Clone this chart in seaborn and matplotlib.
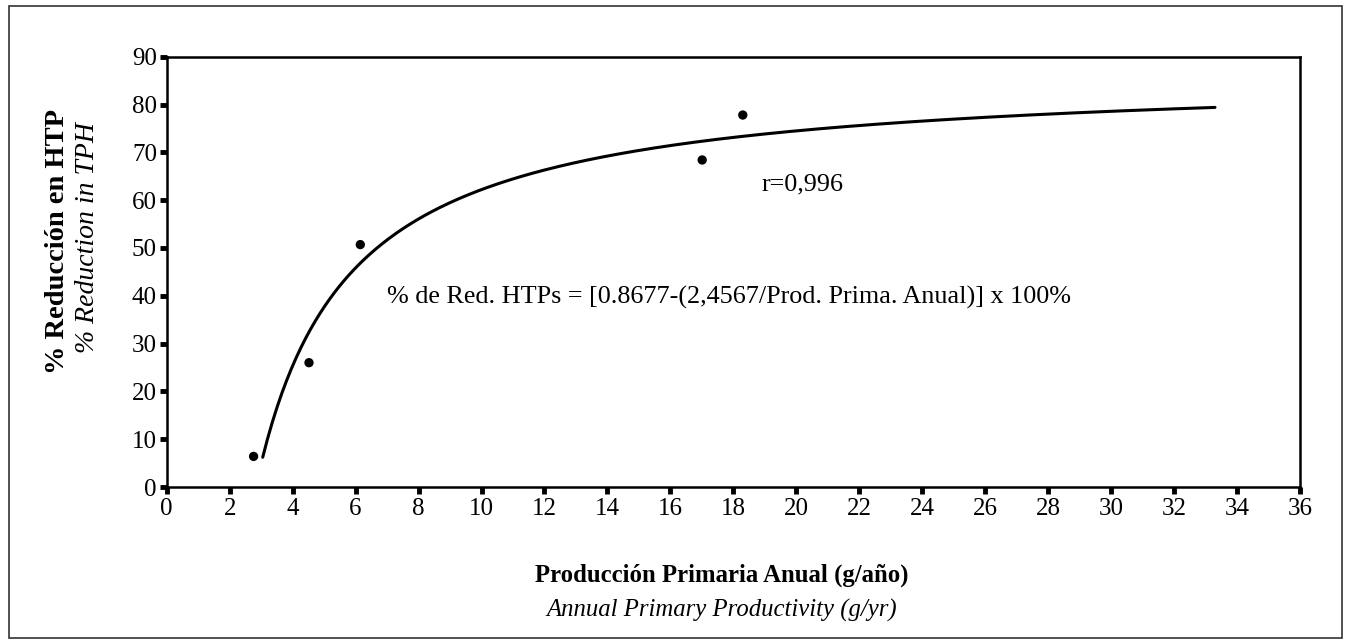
import numpy as np
import pandas as pd
import matplotlib
matplotlib.use("Agg")
import matplotlib.pyplot as plt
import seaborn as sns
from matplotlib.patches import Rectangle

# ---- data ----
prod_x = [2.76, 4.52, 6.15, 17.01, 18.30]
reduction_y = [6.4, 26.0, 50.7, 68.4, 77.8]

# fitted model stated on the chart: % red = (a - b / x) * 100
coef_a = 0.8677
coef_b = 2.4567
curve_start, curve_end = 3.05, 33.3

x_ticks = list(range(0, 37, 2))
y_ticks = list(range(0, 91, 10))

eq_text = "% de Red. HTPs = [0.8677-(2,4567/Prod. Prima. Anual)] x 100%"
r_text = "r=0,996"
xlabel_es = "Producción Primaria Anual (g/año)"
xlabel_en = "Annual Primary Productivity (g/yr)"
ylabel_es = "% Reducción en HTP"
ylabel_en = "% Reduction in TPH"

sns.set_theme(style="ticks")
plt.rcParams['font.family'] = ['Liberation Serif', 'DejaVu Serif']
plt.rcParams['text.color'] = 'black'

W, H = 1349, 639
fig = plt.figure(figsize=(W / 100, H / 100), dpi=100)
ax = fig.add_axes([166.7 / W, 1 - 487 / H, (1300 - 166.7) / W, (487 - 56.7) / H])

curve_x = np.linspace(curve_start, curve_end, 400)
curve_df = pd.DataFrame({"x": curve_x, "y": (coef_a - coef_b / curve_x) * 100})
pts_df = pd.DataFrame({"x": prod_x, "y": reduction_y})

sns.lineplot(data=curve_df, x="x", y="y", ax=ax, color="black", linewidth=2.2, sort=False)
sns.scatterplot(data=pts_df, x="x", y="y", ax=ax, color="black", s=45, edgecolor="none", zorder=5)

ax.set_xlim(0, 36)
ax.set_ylim(0, 90)
ax.set_xticks(x_ticks)
ax.set_yticks(y_ticks)
ax.set_xlabel("")
ax.set_ylabel("")
ax.tick_params(axis="both", which="major", direction="out", length=5, width=3.5,
               labelsize=18, colors="black", pad=2)
ax.tick_params(axis="x", pad=3)
for s in ax.spines.values():
    s.set_linewidth(1.8)
    s.set_color("black")

ax.text(7.0, 39.7, eq_text, fontsize=18.8, va="center", ha="left", color="black")
ax.text(18.9, 63.2, r_text, fontsize=18.8, va="center", ha="left", color="black")

fig.text(722 / W, 1 - 575 / H, xlabel_es, fontsize=17.8, fontweight="bold",
         ha="center", va="center", color="black")
fig.text(722 / W, 1 - 610 / H, xlabel_en, fontsize=17.8, fontstyle="italic",
         ha="center", va="center", color="black")
fig.text(58 / W, 1 - 242 / H, ylabel_es, fontsize=20.5, fontweight="bold", rotation=90,
         ha="center", va="center", color="black")
fig.text(88 / W, 1 - 238 / H, ylabel_en, fontsize=20, fontstyle="italic", rotation=90,
         ha="center", va="center", color="black")

fig.patches.append(Rectangle((9 / W, 1 / H), (1342 - 9) / W, (633 - 1) / H,
                             transform=fig.transFigure, fill=False,
                             edgecolor="#333333", linewidth=1.2))

fig.savefig("out.png", dpi=100, facecolor="white")
